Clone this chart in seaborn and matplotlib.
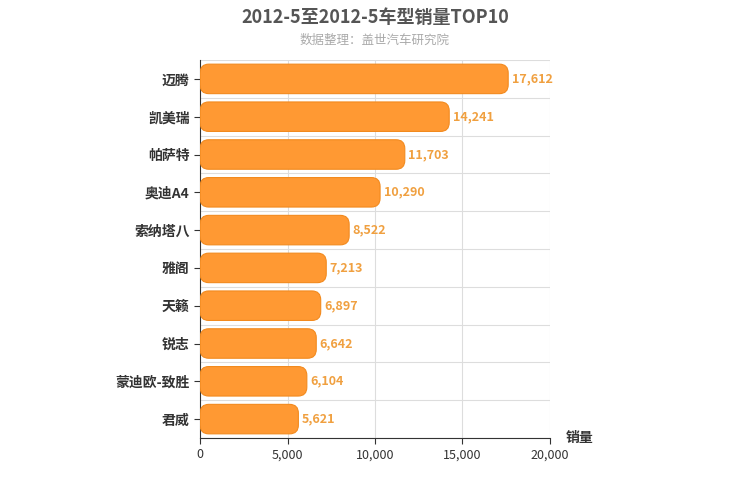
import matplotlib.pyplot as plt
import pandas as pd
import seaborn as sns
from matplotlib.patches import FancyBboxPatch

models = ["迈腾", "凯美瑞", "帕萨特", "奥迪A4", "索纳塔八", "雅阁", "天籁", "锐志", "蒙迪欧-致胜", "君威"]
sales = [17612, 14241, 11703, 10290, 8522, 7213, 6897, 6642, 6104, 5621]
x_ticks = [0, 5000, 10000, 15000, 20000]

plt.rcParams["font.family"] = ["Noto Sans CJK SC", "DejaVu Sans"]
df = pd.DataFrame({"model": models, "sales": sales})

fig = plt.figure(figsize=(7.5, 5), dpi=100)
ax = fig.add_axes([0.2667, 0.124, 0.4666, 0.756])
sns.barplot(data=df, y="model", x="sales", color="#FF9933", width=0.78, ax=ax, zorder=3)

bar_color = "#FF9933"
for p in list(ax.patches):
    x0, y0 = p.get_x(), p.get_y()
    w, h = p.get_width(), p.get_height()
    p.remove()
    ax.add_patch(FancyBboxPatch((x0, y0), w, h,
                                boxstyle="round,pad=0,rounding_size=500",
                                mutation_aspect=0.00047,
                                facecolor=bar_color, edgecolor="#F28A1E",
                                linewidth=0.8, zorder=3))
    ax.text(x0 + w + 200, y0 + h / 2, f"{w:,.0f}", va="center", ha="left",
            color="#F0A040", fontsize=9, fontweight="bold", zorder=4)

ax.set_xlim(0, 20000)
ax.set_ylim(len(models) - 0.5, -0.5)
ax.set_xticks(x_ticks)
ax.set_xticklabels([f"{v:,}" for v in x_ticks], fontsize=9, color="#333333")
ax.set_yticks(range(len(models)))
ax.set_yticklabels(models, fontsize=10, fontweight="bold", color="#333333")
for y in range(len(models) + 1):
    ax.axhline(y - 0.5, color="#DDDDDD", lw=0.8, zorder=1)
for v in x_ticks[1:]:
    ax.axvline(v, color="#DDDDDD", lw=0.8, zorder=1)
ax.set_xlabel("")
ax.set_ylabel("")
for s in ["top", "right"]:
    ax.spines[s].set_visible(False)
ax.spines["left"].set_color("#333333")
ax.spines["bottom"].set_color("#333333")
ax.tick_params(axis="y", length=4, color="#333333")
ax.tick_params(axis="x", length=4, color="#333333")

fig.text(0.5, 0.965, "2012-5至2012-5车型销量TOP10", ha="center", va="center",
         fontsize=13, fontweight="bold", color="#555555")
fig.text(0.5, 0.92, "数据整理：盖世汽车研究院", ha="center", va="center",
         fontsize=9, color="#AAAAAA")
fig.text(0.773, 0.124, "销量", ha="center", va="center", fontsize=10,
         fontweight="bold", color="#333333")

fig.savefig("out.png", dpi=100)
